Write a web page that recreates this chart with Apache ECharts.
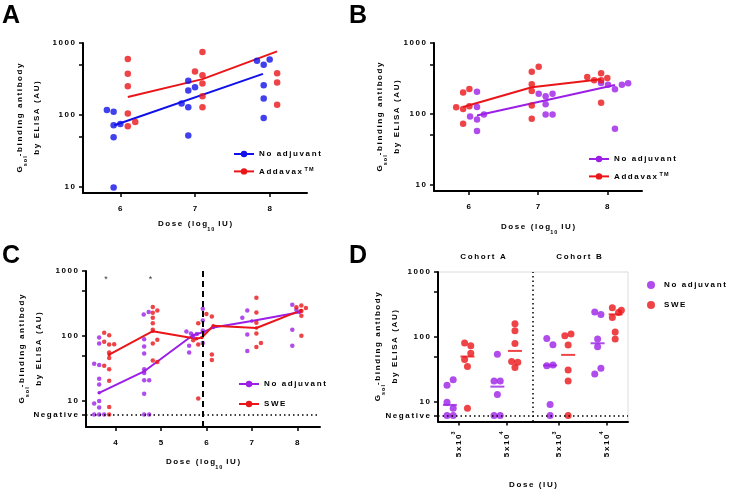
<!DOCTYPE html>
<html>
<head>
<meta charset="utf-8">
<script src="https://cdn.jsdelivr.net/npm/echarts@6/dist/echarts.min.js"></script>
<style>
html, body { margin: 0; padding: 0; background: #fff; }
#main { width: 740px; height: 490px; }
</style>
</head>
<body>
<div id="main"></div>
<script>
// value used for samples below detection ("Negative" row)
const NEG = 6.2;

// ---- panel A : No adjuvant vs Addavax ----
const aNoAdjDose  = [5.82, 5.91, 5.91, 6.0, 5.91, 5.91, 6.82, 6.91, 6.91, 7.0, 6.91, 6.91, 7.83, 7.92, 8.0, 7.92, 7.92, 7.92];
const aNoAdjTiter = [117, 111, 72, 75, 49, 9.8, 145, 298, 219, 243, 128, 52, 567, 499, 592, 259, 169, 91];
const aAddDose    = [6.1, 6.1, 6.1, 6.1, 6.1, 6.2, 7.1, 7.0, 7.1, 7.1, 7.1, 7.1, 8.1, 8.1, 8.1];
const aAddTiter   = [598, 373, 251, 105, 70, 80, 749, 403, 357, 274, 182, 128, 381, 283, 139];
const aNoAdjFitDose = [5.92, 7.91];
const aNoAdjFitTiter = [72, 373];
const aAddFitDose = [6.1, 7.1, 8.1];
const aAddFitTiter = [178, 315, 765];

// ---- panel B ----
const bNoAdjDose  = [6.12, 6.12, 6.02, 6.12, 6.22, 6.12, 7.01, 7.11, 7.21, 7.11, 7.11, 7.21, 7.91, 8.01, 8.11, 8.21, 8.3, 8.11];
const bNoAdjTiter = [205, 124, 91, 83, 97, 57, 192, 176, 192, 136, 97, 97, 272, 257, 221, 257, 269, 61];
const bAddDose    = [5.82, 5.92, 6.01, 5.92, 6.01, 5.92, 6.91, 7.01, 6.91, 6.91, 6.91, 6.91, 7.71, 7.81, 7.91, 7.91, 8.0, 7.91];
const bAddTiter   = [123, 200, 223, 116, 127, 72, 393, 463, 260, 210, 130, 85, 330, 296, 372, 296, 320, 143];
const bNoAdjFitDose = [6.12, 8.11];
const bNoAdjFitTiter = [94, 255];
const bAddFitDose = [5.92, 6.91, 7.91];
const bAddFitTiter = [124, 236, 306];

// ---- panel C : No adjuvant vs SWE ----
const cNoAdjDose  = [3.53, 3.64, 3.64, 3.64, 3.64, 3.64, 3.53, 3.64, 3.64, 3.53, 3.64, 3.75,
                     4.62, 4.73, 4.63, 4.63, 4.63, 4.63, 4.63, 4.63, 4.74, 4.63, 4.63, 4.74,
                     5.56, 5.66, 5.62, 5.62, 5.71, 5.79, 5.92, 5.92, 5.92, 5.92,
                     6.79, 6.9, 6.9, 6.9, 7.89, 7.89, 7.89, 7.98];
const cNoAdjTiter = [37.5, 36, 95, 77, 22, 18, 9.2, 10, 8.0, NEG, NEG, NEG,
                     215, 235, 89, 69, 54, 31, 27, 21, 21, 13, NEG, NEG,
                     118, 109, 71, 56, 97, 108, 262, 174, 122, 78,
                     191, 248, 106, 59, 303, 125, 71, 254];
const cSweDose    = [3.75, 3.86, 3.75, 3.86, 3.97, 3.86, 3.86, 3.75, 3.86, 3.86, 3.86, 3.86,
                     4.82, 4.82, 4.92, 4.82, 4.82, 4.82, 4.92, 4.82, 4.82, 4.92,
                     5.71, 5.82, 5.82, 5.82, 6.0, 6.12, 6.12, 6.12,
                     7.1, 7.1, 7.1, 7.1, 7.1, 7.2, 8.09, 8.09, 8.09, 8.09, 8.19, 7.98];
const cSweTiter   = [112, 103, 82, 74, 75, 56, 46, 35, 31, 20.6, 8.1, NEG,
                     279, 229, 248, 191, 158, 125, 88, 77, 42, 40,
                     86, 157, 74, 11, 218, 199, 52, 43,
                     389, 231, 160, 109, 68, 78, 296, 243, 206, 101, 270, 278];
const cNoAdjLineDose  = [3.64, 4.64, 5.7, 5.93, 6.15, 7.0, 8.05];
const cNoAdjLineTiter = [13.4, 29, 103, 115, 135, 170, 233];
const cSweLineDose    = [3.86, 4.82, 5.78, 5.9, 6.15, 7.1, 8.08];
const cSweLineTiter   = [52, 119, 91, 95, 144, 133, 248];
const cStarDose  = [3.79, 4.77];
const cStarTiter = [736, 736];
const cCohortSplit = 5.92;

// ---- panel D : cohorts A / B ----
const dDoseExp = [3, 4, 3, 4];
const dGroupPos = [0.44, 1.45, 2.55, 3.55];
const dCohorts = ['Cohort A', 'Cohort B'];
const dNoAdjPos   = [0.19, 0.32, 0.19, 0.32, 0.19, 0.32, 1.25, 1.18, 1.31, 1.25, 1.18, 1.31,
                     2.29, 2.42, 2.29, 2.42, 2.36, 2.36, 3.3, 3.43, 3.36, 3.36, 3.3, 3.43];
const dNoAdjTiter = [18, 22, 9.9, 8.0, NEG, NEG, 54, 21, 21, 13, NEG, NEG,
                     95, 76, 36, 37, 9.1, NEG, 242, 221, 93, 71, 27, 33];
const dSwePos     = [0.56, 0.69, 0.69, 0.56, 0.62, 0.62, 1.62, 1.62, 1.62, 1.55, 1.68, 1.62,
                     2.67, 2.8, 2.74, 2.74, 2.74, 2.74, 3.67, 3.8, 3.86, 3.67, 3.73, 3.73];
const dSweTiter   = [81, 73, 56, 45, 35, 8.0, 160, 125, 79, 42, 41, 34,
                     104, 111, 75, 31, 21, NEG, 282, 237, 257, 199, 119, 93];
const dNoAdjMedPos = [0.25, 1.25, 2.36, 3.36];
const dNoAdjMed    = [9.0, 17.2, 36.5, 80];
const dSweMedPos   = [0.62, 1.62, 2.74, 3.74];
const dSweMed      = [50, 61, 53, 223];

const BLUE = '#1010ea';
const RED = '#ea1519';
const PURPLE = '#9b1fe6';
const FONT = '"Liberation Sans", Arial, sans-serif';

// GraphPad-style spaced-out lettering
const sp = s => s.split('').join('\u2009');
const pts = (xs, ys) => xs.map((x, i) => [x, ys[i]]);

const txt = { fontSize: 8, fontWeight: 'bold', fontFamily: FONT, color: '#000' };
const nameRich = {
  t: Object.assign({ lineHeight: 17 }, txt),
  s: Object.assign({}, txt, { fontSize: 5.5, lineHeight: 11, verticalAlign: 'bottom' }),
  u: Object.assign({}, txt, { fontSize: 5.5, lineHeight: 10, verticalAlign: 'top' })
};
const yName = '{t|' + sp('G') + '}{s|' + sp('sol') + '}{t|' + sp('-binding antibody') + '}\n{t|' + sp('by ELISA (AU)') + '}';
const xNameLog = '{t|' + sp('Dose (log') + '}{s|' + sp('10') + '}{t|' + sp(' IU)') + '}';

function yAxisCfg(grid, min, gap, withNeg) {
  return {
    type: 'log', logBase: 10, gridIndex: grid, min: min, max: 1000,
    axisLine: { show: true, lineStyle: { color: '#000', width: 2 } },
    axisTick: { show: true, length: 4, lineStyle: { color: '#000', width: 1.5 },
      customValues: withNeg ? [NEG, 10, 50, 100, 500, 1000] : [10, 50, 100, 500, 1000] },
    axisLabel: Object.assign({ margin: 8,
      customValues: withNeg ? [NEG, 10, 100, 1000] : [10, 100, 1000],
      formatter: v => v < 8 ? sp('Negative') : sp(String(Math.round(v))) }, txt),
    splitLine: { show: false },
    name: yName, nameLocation: 'middle', nameRotate: 90, nameGap: gap,
    nameMoveOverlap: false,
    nameTextStyle: { rich: nameRich }
  };
}

function xAxisCfg(grid, min, max, ticks, gap) {
  return {
    type: 'value', gridIndex: grid, min: min, max: max,
    axisLine: { onZero: false, lineStyle: { color: '#000', width: 2 } },
    axisTick: { show: true, length: 4, lineStyle: { color: '#000', width: 1.5 }, customValues: ticks },
    axisLabel: Object.assign({ margin: 12, customValues: ticks, formatter: v => sp(String(v)) }, txt),
    splitLine: { show: false },
    name: xNameLog, nameLocation: 'middle', nameGap: gap,
    nameMoveOverlap: false,
    nameTextStyle: { rich: nameRich }
  };
}

function legendCfg(left, top, gap, names, labels, icon, iw) {
  return {
    orient: 'vertical', left: left, top: top, itemGap: gap,
    itemWidth: iw, itemHeight: 8, icon: icon, padding: 0,
    data: names, selectedMode: false,
    formatter: n => labels[n],
    textStyle: Object.assign({ lineHeight: 10, rich: {
      t: Object.assign({}, txt),
      u: Object.assign({}, txt, { fontSize: 5.5, lineHeight: 10, verticalAlign: 'top' })
    } }, txt)
  };
}

const legendLabels = {
  'A-n': '{t|' + sp('No adjuvant') + '}', 'A-a': '{t|' + sp('Addavax') + '}{u|' + sp(' TM') + '}',
  'B-n': '{t|' + sp('No adjuvant') + '}', 'B-a': '{t|' + sp('Addavax') + '}{u|' + sp(' TM') + '}',
  'C-n': '{t|' + sp('No adjuvant') + '}', 'C-s': '{t|' + sp('SWE') + '}',
  'D-n': '{t|' + sp('No adjuvant') + '}', 'D-s': '{t|' + sp('SWE') + '}'
};

function fitLine(name, x, y, xs, ys, color, sym) {
  return { type: 'line', name: name, xAxisIndex: x, yAxisIndex: y, data: pts(xs, ys),
    color: color, lineStyle: { width: 2 }, symbol: 'circle', symbolSize: sym || 6,
    showSymbol: !!sym, silent: true, z: 2 };
}
function dots(name, x, y, xs, ys, color, size) {
  return { type: 'scatter', name: name, xAxisIndex: x, yAxisIndex: y, data: pts(xs, ys),
    color: color, symbolSize: size, silent: true, z: 3 };
}

const dXAxis = {
  type: 'value', gridIndex: 3, min: 0, max: 4,
  axisLine: { onZero: false, lineStyle: { color: '#000', width: 2 } },
  axisTick: { show: true, length: 4, lineStyle: { color: '#000', width: 1.5 }, customValues: dGroupPos },
  axisLabel: Object.assign({ margin: 10, rotate: 90, customValues: dGroupPos,
    formatter: v => {
      const i = dGroupPos.indexOf(v);
      return '{t|' + sp('5x10') + '}{u|' + (i >= 0 ? dDoseExp[i] : '') + '}';
    },
    rich: { t: Object.assign({ lineHeight: 16 }, txt), u: nameRich.u } }, txt),
  splitLine: { show: false },
  name: '{t|' + sp('Dose (IU)') + '}', nameLocation: 'middle', nameGap: 55,
  nameMoveOverlap: false,
  nameTextStyle: { rich: nameRich }
};

const chart = echarts.init(document.getElementById('main'), null, { renderer: 'canvas' });

const titleStyle = { fontSize: 25, fontWeight: 'bold', fontFamily: FONT, color: '#000' };

chart.setOption({
  animation: false,
  backgroundColor: '#fff',
  title: [
    { text: 'A', left: 2, top: 4, padding: 0, textStyle: titleStyle },
    { text: 'B', left: 349, top: 4, padding: 0, textStyle: titleStyle },
    { text: 'C', left: 2, top: 244, padding: 0, textStyle: titleStyle },
    { text: 'D', left: 349, top: 244, padding: 0, textStyle: titleStyle }
  ],
  grid: [
    { left: 83, top: 43, width: 224, height: 150 },
    { left: 434, top: 43, width: 208, height: 148 },
    { left: 86, top: 271, width: 234, height: 156 },
    { left: 438, top: 272, width: 190, height: 151, show: true, borderColor: '#dcdcdc', borderWidth: 1 }
  ],
  xAxis: [
    xAxisCfg(0, 5.5, 8.5, [6, 7, 8], 22),
    xAxisCfg(1, 5.5, 8.5, [6, 7, 8], 27),
    xAxisCfg(2, 3.35, 8.5, [4, 5, 6, 7, 8], 26),
    dXAxis
  ],
  yAxis: [
    yAxisCfg(0, 8.25, 37.5, false),
    yAxisCfg(1, 8.05, 28.5, false),
    yAxisCfg(2, 4, 39, true),
    yAxisCfg(3, 5, 34.5, true)
  ],
  legend: [
    legendCfg(233, 149, 7.4, ['A-n', 'A-a'], legendLabels, undefined, 20),
    legendCfg(588, 154, 7.4, ['B-n', 'B-a'], legendLabels, undefined, 20),
    legendCfg(238, 379, 10, ['C-n', 'C-s'], legendLabels, undefined, 20),
    legendCfg(647, 280, 10, ['D-n', 'D-s'], legendLabels, 'circle', 16)
  ],
  graphic: dCohorts.map((c, i) => ({
    type: 'text', x: i === 0 ? 483 : 579, y: 257, silent: true,
    style: { text: sp(c), align: 'center', verticalAlign: 'middle',
      font: 'bold 8px ' + FONT, fill: '#000' }
  })),
  series: [
    // A
    fitLine('A-n', 0, 0, aNoAdjFitDose, aNoAdjFitTiter, BLUE),
    fitLine('A-a', 0, 0, aAddFitDose, aAddFitTiter, RED),
    dots('A-n', 0, 0, aNoAdjDose, aNoAdjTiter, BLUE, 6.5),
    dots('A-a', 0, 0, aAddDose, aAddTiter, RED, 6.5),
    // B
    fitLine('B-n', 1, 1, bNoAdjFitDose, bNoAdjFitTiter, PURPLE),
    fitLine('B-a', 1, 1, bAddFitDose, bAddFitTiter, RED),
    dots('B-n', 1, 1, bNoAdjDose, bNoAdjTiter, PURPLE, 6.5),
    dots('B-a', 1, 1, bAddDose, bAddTiter, RED, 6.5),
    // C
    fitLine('C-n', 2, 2, cNoAdjLineDose, cNoAdjLineTiter, PURPLE, 3.5),
    fitLine('C-s', 2, 2, cSweLineDose, cSweLineTiter, RED, 3.5),
    dots('C-n', 2, 2, cNoAdjDose, cNoAdjTiter, PURPLE, 4.5),
    dots('C-s', 2, 2, cSweDose, cSweTiter, RED, 4.5),
    {
      type: 'scatter', name: 'C-star', xAxisIndex: 2, yAxisIndex: 2, silent: true,
      data: pts(cStarDose, cStarTiter), symbolSize: 1,
      itemStyle: { color: 'rgba(0,0,0,0)' },
      label: { show: true, position: 'inside', formatter: '*', fontSize: 9, color: '#000', fontFamily: FONT },
      markLine: {
        silent: true, symbol: 'none', label: { show: false },
        data: [
          { xAxis: cCohortSplit, lineStyle: { color: '#000', width: 2, type: [6, 4] } },
          { yAxis: NEG, lineStyle: { color: '#000', width: 1.5, type: [1.5, 3] } }
        ]
      }
    },
    // D
    dots('D-n', 3, 3, dNoAdjPos, dNoAdjTiter, PURPLE, 7),
    dots('D-s', 3, 3, dSwePos, dSweTiter, RED, 7),
    {
      type: 'scatter', name: 'D-n-med', xAxisIndex: 3, yAxisIndex: 3, silent: true,
      data: pts(dNoAdjMedPos, dNoAdjMed), symbol: 'rect', symbolSize: [14, 2], color: PURPLE,
      markLine: {
        silent: true, symbol: 'none', label: { show: false },
        data: [
          { xAxis: 2.0, lineStyle: { color: '#000', width: 1.5, type: [1.5, 3] } },
          { yAxis: NEG, lineStyle: { color: '#000', width: 1.5, type: [1.5, 3] } }
        ]
      }
    },
    {
      type: 'scatter', name: 'D-s-med', xAxisIndex: 3, yAxisIndex: 3, silent: true,
      data: pts(dSweMedPos, dSweMed), symbol: 'rect', symbolSize: [14, 2], color: RED
    }
  ]
});
</script>
</body>
</html>
